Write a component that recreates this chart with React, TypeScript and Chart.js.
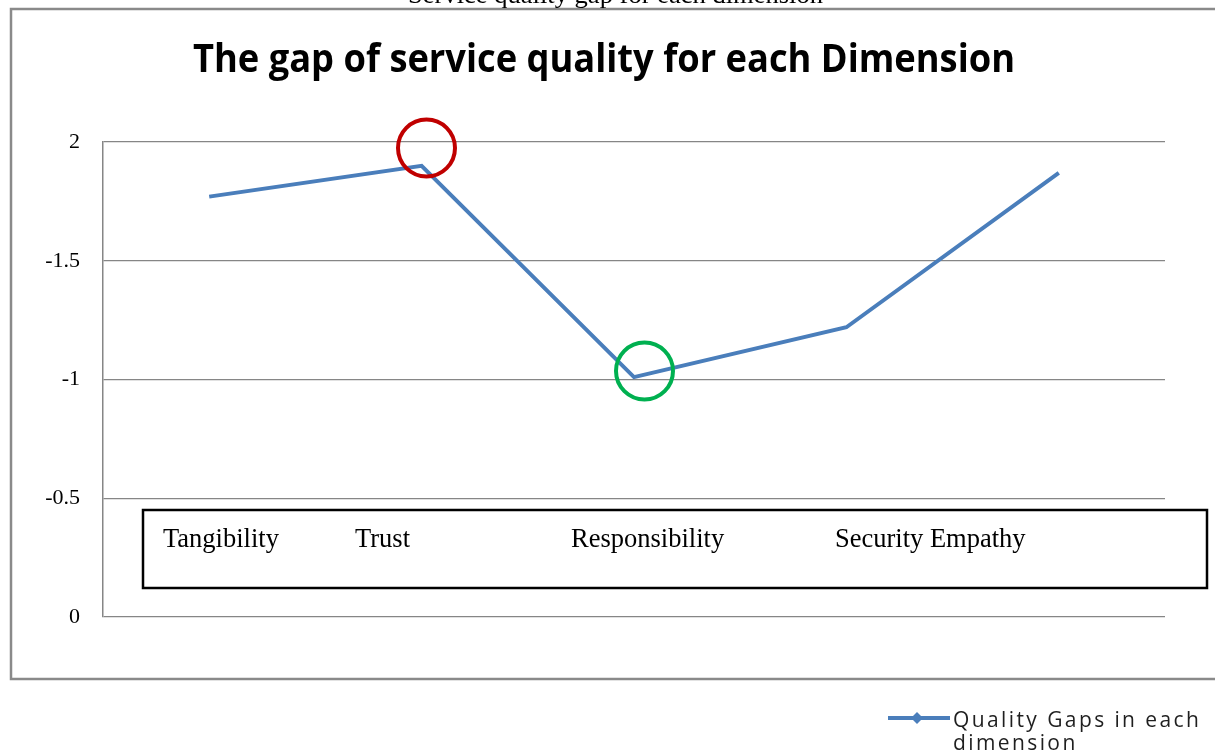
import React, { useEffect, useRef } from "react";
import { Chart, registerables } from "chart.js";

Chart.register(...registerables);

const categories = ["Tangibility", "Trust", "Responsibility", "Security", "Empathy"];
const gapValues = [-1.77, -1.9, -1.01, -1.22, -1.87];
const seriesLabel = "Quality Gaps in each dimension";
const legendLines = ["Quality Gaps in each", "dimension"];
const yTickValues = [-2, -1.5, -1, -0.5, 0];
const yTickLabels = ["2", "-1.5", "-1", "-0.5", "0"];
const chartTitle = "The gap of service quality for each Dimension";
const captionText = "Service quality gap for each dimension";
const boxLabels = ["Tangibility", "Trust", "Responsibility", "Security Empathy"];
const boxLabelX = [163, 355, 571, 835];

function fitText(ctx: any, text: string, x: number, y: number, width: number) {
  const w = ctx.measureText(text).width;
  ctx.save();
  ctx.translate(x, y);
  ctx.scale(width / w, 1);
  ctx.textAlign = "left";
  ctx.fillText(text, 0, 0);
  ctx.restore();
}

const overlayPlugin = {
  id: "overlay",
  afterDraw(chart: any) {
    const ctx = chart.ctx;
    ctx.save();
    // outer frame
    ctx.strokeStyle = "#8a8a8a";
    ctx.lineWidth = 2.5;
    ctx.strokeRect(11, 9, 1230, 670);
    // caption (cut off at top)
    ctx.fillStyle = "#000";
    ctx.textBaseline = "alphabetic";
    ctx.font = "26px 'Liberation Serif'";
    fitText(ctx, captionText, 408, 3, 415);
    // title
    ctx.font = "bold 40px 'Open Sans'";
    fitText(ctx, chartTitle, 193, 72, 822);
    // circles
    ctx.lineWidth = 4;
    ctx.strokeStyle = "#c00000";
    ctx.beginPath();
    ctx.arc(426.5, 148, 28.5, 0, Math.PI * 2);
    ctx.stroke();
    ctx.strokeStyle = "#00b050";
    ctx.beginPath();
    ctx.arc(644.5, 371, 28.5, 0, Math.PI * 2);
    ctx.stroke();
    // text box
    ctx.fillStyle = "#fff";
    ctx.fillRect(143, 510, 1064, 78);
    ctx.strokeStyle = "#000";
    ctx.lineWidth = 2.5;
    ctx.strokeRect(143, 510, 1064, 78);
    ctx.fillStyle = "#000";
    ctx.font = "26.5px 'Liberation Serif'";
    ctx.textAlign = "left";
    boxLabels.forEach((t, i) => ctx.fillText(t, boxLabelX[i], 547));
    // legend
    const ds = chart.data.datasets[0];
    ctx.strokeStyle = ds.borderColor;
    ctx.lineWidth = 4;
    ctx.beginPath();
    ctx.moveTo(888, 718);
    ctx.lineTo(950, 718);
    ctx.stroke();
    ctx.fillStyle = ds.borderColor;
    ctx.beginPath();
    ctx.moveTo(917, 712);
    ctx.lineTo(923, 718);
    ctx.lineTo(917, 724);
    ctx.lineTo(911, 718);
    ctx.closePath();
    ctx.fill();
    ctx.fillStyle = "#1f1f1f";
    ctx.font = "21px 'Open Sans'";
    (ctx as any).letterSpacing = "2.4px";
    ctx.fillText(legendLines[0], 953, 727);
    ctx.fillText(legendLines[1], 953, 750);
    ctx.restore();
  },
};

export default function App() {
  const ref = useRef<HTMLCanvasElement | null>(null);
  useEffect(() => {
    if (!ref.current) return;
    const chart = new Chart(ref.current, {
      type: "line",
      data: {
        labels: categories,
        datasets: [
          {
            label: seriesLabel,
            data: gapValues,
            borderColor: "#4a7ebb",
            backgroundColor: "#4a7ebb",
            borderWidth: 4,
            pointRadius: 0,
            tension: 0,
            fill: false,
          },
        ],
      },
      options: {
        responsive: false,
        animation: false,
        layout: { padding: { left: 10, right: 50, top: 142, bottom: 136 } },
        plugins: {
          legend: { display: false },
          tooltip: { enabled: false },
          title: { display: false, text: chartTitle },
        },
        scales: {
          x: {
            type: "category",
            display: false,
            offset: true,
          },
          y: {
            type: "linear",
            reverse: true,
            min: -2,
            max: 0,
            afterBuildTicks: (scale: any) => {
              scale.ticks = yTickValues.map((v) => ({ value: v }));
            },
            afterFit: (scale: any) => {
              scale.width = 93;
            },
            ticks: {
              stepSize: 0.5,
              padding: 23,
              color: "#000",
              font: { family: "'Liberation Serif'", size: 22 },
              callback: (value: any) => {
                const i = yTickValues.indexOf(Number(value));
                return i >= 0 ? yTickLabels[i] : "";
              },
            },
            grid: { color: "#868686", lineWidth: 1.2, drawTicks: false },
            border: { display: true, color: "#868686", width: 1.5 },
          },
        },
      },
      plugins: [overlayPlugin],
    });
    return () => chart.destroy();
  }, []);
  return (
    <div style={{ position: "absolute", left: 0, top: 0, width: 1215, height: 753, background: "#fff" }}>
      <canvas ref={ref} width={1215} height={753} />
    </div>
  );
}
